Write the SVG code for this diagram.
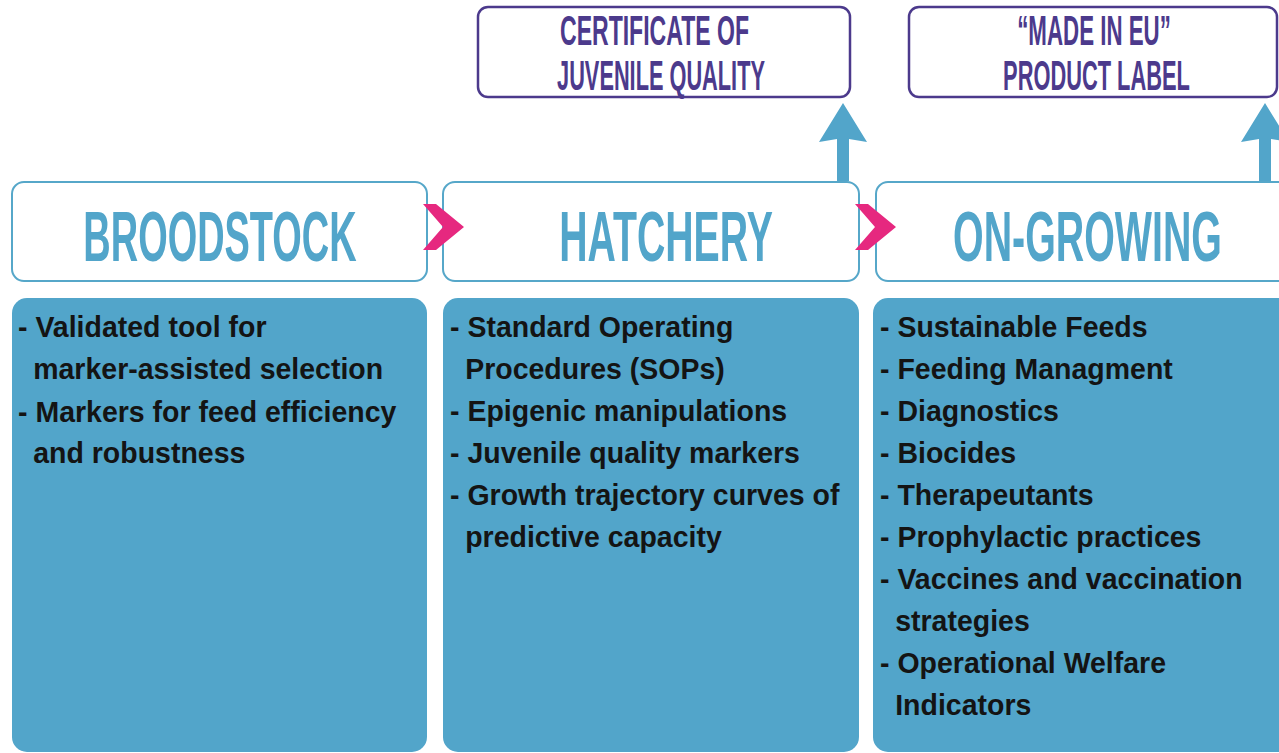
<svg xmlns="http://www.w3.org/2000/svg" width="1279" height="753" viewBox="0 0 1279 753">
<style>
.hdr{fill:#fff;stroke:#56a7c9;stroke-width:2}
.body{fill:#52a5ca}
.top{fill:#fff;stroke:#4c3a8c;stroke-width:2.5}
.htxt{font-family:"Liberation Sans",Arial,sans-serif;font-weight:bold;font-size:70px;fill:#52a5ca;text-anchor:middle}
.ttxt{font-family:"Liberation Sans",Arial,sans-serif;font-weight:bold;font-size:42px;fill:#4c3a8c;text-anchor:middle}
.btxt{font-family:"Liberation Sans",Arial,sans-serif;font-weight:bold;font-size:30px;fill:#141414}
.chev{fill:#e6287f}
.arr{fill:#52a5ca}
</style>
<rect width="1279" height="753" fill="#fff"/>

<g id="certificate">
<rect class="top" x="478" y="7" width="372" height="90" rx="10"/>
<text class="ttxt" transform="translate(654.5,45) scale(0.549,1)">CERTIFICATE OF</text>
<text class="ttxt" transform="translate(661,90) scale(0.518,1)">JUVENILE QUALITY</text>
</g>

<g id="made-in-eu">
<rect class="top" x="909" y="7" width="368" height="90" rx="10"/>
<text class="ttxt" transform="translate(1094,45) scale(0.531,1)">“MADE IN EU”</text>
<text class="ttxt" transform="translate(1096.5,90) scale(0.52,1)">PRODUCT LABEL</text>
</g>

<g id="broodstock">
<rect class="hdr" x="12" y="182" width="415" height="99" rx="12"/>
<text class="htxt" transform="translate(220,261) scale(0.542,1)">BROODSTOCK</text>
<rect class="body" x="12" y="298" width="415" height="454" rx="15"/>
<g transform="translate(18,0) scale(0.95,1)">
<text class="btxt" x="0" y="337">- Validated tool for</text>
<text class="btxt" x="16" y="379">marker-assisted selection</text>
<text class="btxt" x="0" y="422">- Markers for feed efficiency</text>
<text class="btxt" x="16" y="463">and robustness</text>
</g>
</g>

<g id="hatchery">
<rect class="hdr" x="443" y="182" width="416" height="99" rx="12"/>
<text class="htxt" transform="translate(666,261) scale(0.5606,1)">HATCHERY</text>
<rect class="body" x="443" y="298" width="416" height="454" rx="15"/>
<g transform="translate(450,0) scale(0.95,1)">
<text class="btxt" x="0" y="337">- Standard Operating</text>
<text class="btxt" x="16" y="379">Procedures (SOPs)</text>
<text class="btxt" x="0" y="421">- Epigenic manipulations</text>
<text class="btxt" x="0" y="463">- Juvenile quality markers</text>
<text class="btxt" x="0" y="505">- Growth trajectory curves of</text>
<text class="btxt" x="16" y="547">predictive capacity</text>
</g>
</g>

<g id="on-growing">
<rect class="hdr" x="876" y="182" width="420" height="99" rx="12"/>
<text class="htxt" transform="translate(1087.5,261) scale(0.5624,1)">ON-GROWING</text>
<rect class="body" x="873" y="298" width="425" height="454" rx="15"/>
<g transform="translate(880,0) scale(0.95,1)">
<text class="btxt" x="0" y="337">- Sustainable Feeds</text>
<text class="btxt" x="0" y="379">- Feeding Managment</text>
<text class="btxt" x="0" y="421">- Diagnostics</text>
<text class="btxt" x="0" y="463">- Biocides</text>
<text class="btxt" x="0" y="505">- Therapeutants</text>
<text class="btxt" x="0" y="547">- Prophylactic practices</text>
<text class="btxt" x="0" y="589">- Vaccines and vaccination</text>
<text class="btxt" x="16" y="631">strategies</text>
<text class="btxt" x="0" y="673">- Operational Welfare</text>
<text class="btxt" x="16" y="715">Indicators</text>
</g>
</g>

<g id="connectors">
<polygon class="chev" points="423,204 436,204 464,227 436,250 423,250 443,227"/>
<polygon class="chev" points="855,204 868,204 896,227 868,250 855,250 875,227"/>
<path class="arr" d="M843,103 L867,142 L849,139 L849,181 L837,181 L837,139 L819,142 Z"/>
<path class="arr" d="M1265,103 L1289,142 L1271,139 L1271,181 L1259,181 L1259,139 L1241,142 Z"/>
</g>
</svg>
